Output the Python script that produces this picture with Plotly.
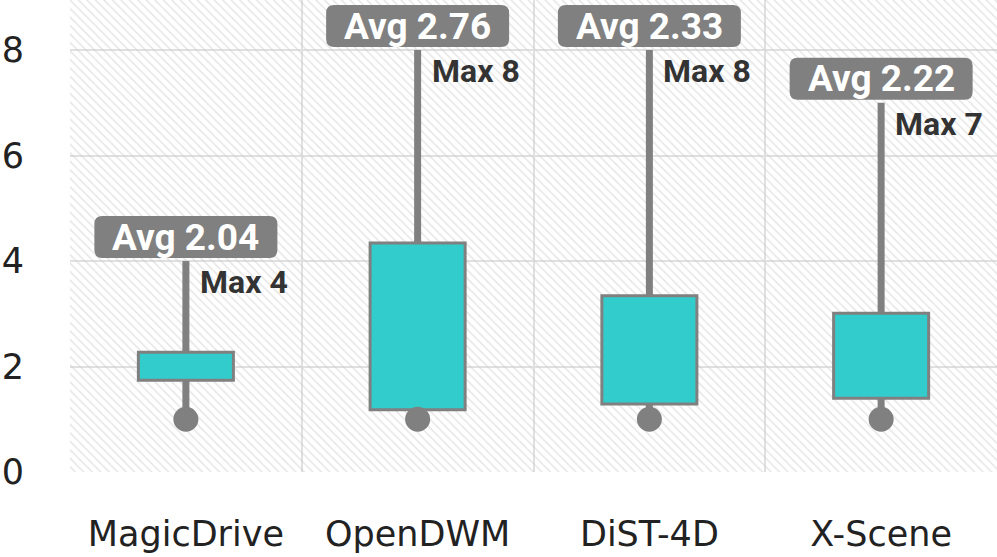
import plotly.graph_objects as go

categories = ["MagicDrive", "OpenDWM", "DiST-4D", "X-Scene"]
mins = [1, 1, 1, 1]
q1 = [1.74, 1.18, 1.29, 1.40]
q3 = [2.27, 4.34, 3.34, 3.01]
maxs = [4, 8, 8, 7]
avgs = [2.04, 2.76, 2.33, 2.22]
y_ticks = [0, 2, 4, 6, 8]

TEAL = "#33cccc"
GRAY = "#808080"
GRID = "#e0e0e0"
YMAX = 8.95

idx = list(range(len(categories)))
fig = go.Figure()

# hatched background
fig.add_trace(go.Bar(
    x=idx, y=[YMAX] * len(idx), width=1,
    marker=dict(color="rgba(0,0,0,0)", line=dict(width=0),
                pattern=dict(shape="\\", fgcolor="#cccccc", bgcolor="rgba(0,0,0,0)",
                             size=6, solidity=0.25)),
    hoverinfo="skip", showlegend=False))

# boxes
fig.add_trace(go.Bar(x=idx, y=[b - a for a, b in zip(q1, q3)], base=q1, width=0.41,
                     marker=dict(color=TEAL, line=dict(color=GRAY, width=3)),
                     showlegend=False))

# whiskers (below and above box)
wx, wy = [], []
for i in idx:
    wx += [i, i, None, i, i, None]
    wy += [mins[i], q1[i], None, q3[i], maxs[i], None]
fig.add_trace(go.Scatter(x=wx, y=wy, mode="lines", line=dict(color=GRAY, width=7),
                         hoverinfo="skip", showlegend=False))

# min dots
fig.add_trace(go.Scatter(x=idx, y=mins, mode="markers",
                         marker=dict(color=GRAY, size=25, line=dict(width=0)),
                         showlegend=False))

W, H, R, GAP = 183, 42, 8, 3
x0, x1, y0, y1 = -W / 2, W / 2, GAP, GAP + H
path = (f"M {x0+R},{y0} L {x1-R},{y0} Q {x1},{y0} {x1},{y0+R} L {x1},{y1-R} "
        f"Q {x1},{y1} {x1-R},{y1} L {x0+R},{y1} Q {x0},{y1} {x0},{y1-R} "
        f"L {x0},{y0+R} Q {x0},{y0} {x0+R},{y0} Z")
for i in idx:
    fig.add_shape(type="path", path=path, xref="x", yref="y",
                  xsizemode="pixel", ysizemode="pixel", xanchor=i, yanchor=maxs[i],
                  fillcolor=GRAY, line=dict(width=0), layer="above")
    fig.add_annotation(x=i, y=maxs[i], text=f"<b>Avg {avgs[i]:.2f}</b>", showarrow=False,
                       yanchor="middle", xanchor="center", yshift=GAP + H / 2,
                       font=dict(family="Roboto", size=37, color="white"))
    fig.add_annotation(x=i, y=maxs[i], text=f"<b>Max {maxs[i]}</b>", showarrow=False,
                       yanchor="top", xanchor="left", xshift=12, yshift=0,
                       font=dict(family="Roboto", size=32, color="#333333"))

fig.update_layout(
    width=997, height=557, margin=dict(l=70, r=0, t=0, b=85),
    plot_bgcolor="white", paper_bgcolor="white", barmode="overlay",
    font=dict(family="DejaVu Sans", size=35, color="#222222"),
    xaxis=dict(range=[-0.5, len(categories) - 0.5], tickvals=idx, ticktext=categories,
               showgrid=False, zeroline=False, ticks="", ticklabelstandoff=38,
               automargin=False,
               minor=dict(tickvals=[i - 0.5 for i in idx] + [len(categories) - 0.5],
                          showgrid=True, gridcolor=GRID, gridwidth=2, ticks=""),
               showline=False, tickfont=dict(size=35)),
    yaxis=dict(range=[0, YMAX], tickvals=y_ticks, showgrid=True, gridcolor=GRID, gridwidth=2,
               zeroline=False, ticks="", ticklabelstandoff=45, showline=False,
               automargin=False, tickfont=dict(size=35)),
)

fig.write_html("out.html", config={"displayModeBar": False},
               post_script="document.body.style.margin='0px';")
